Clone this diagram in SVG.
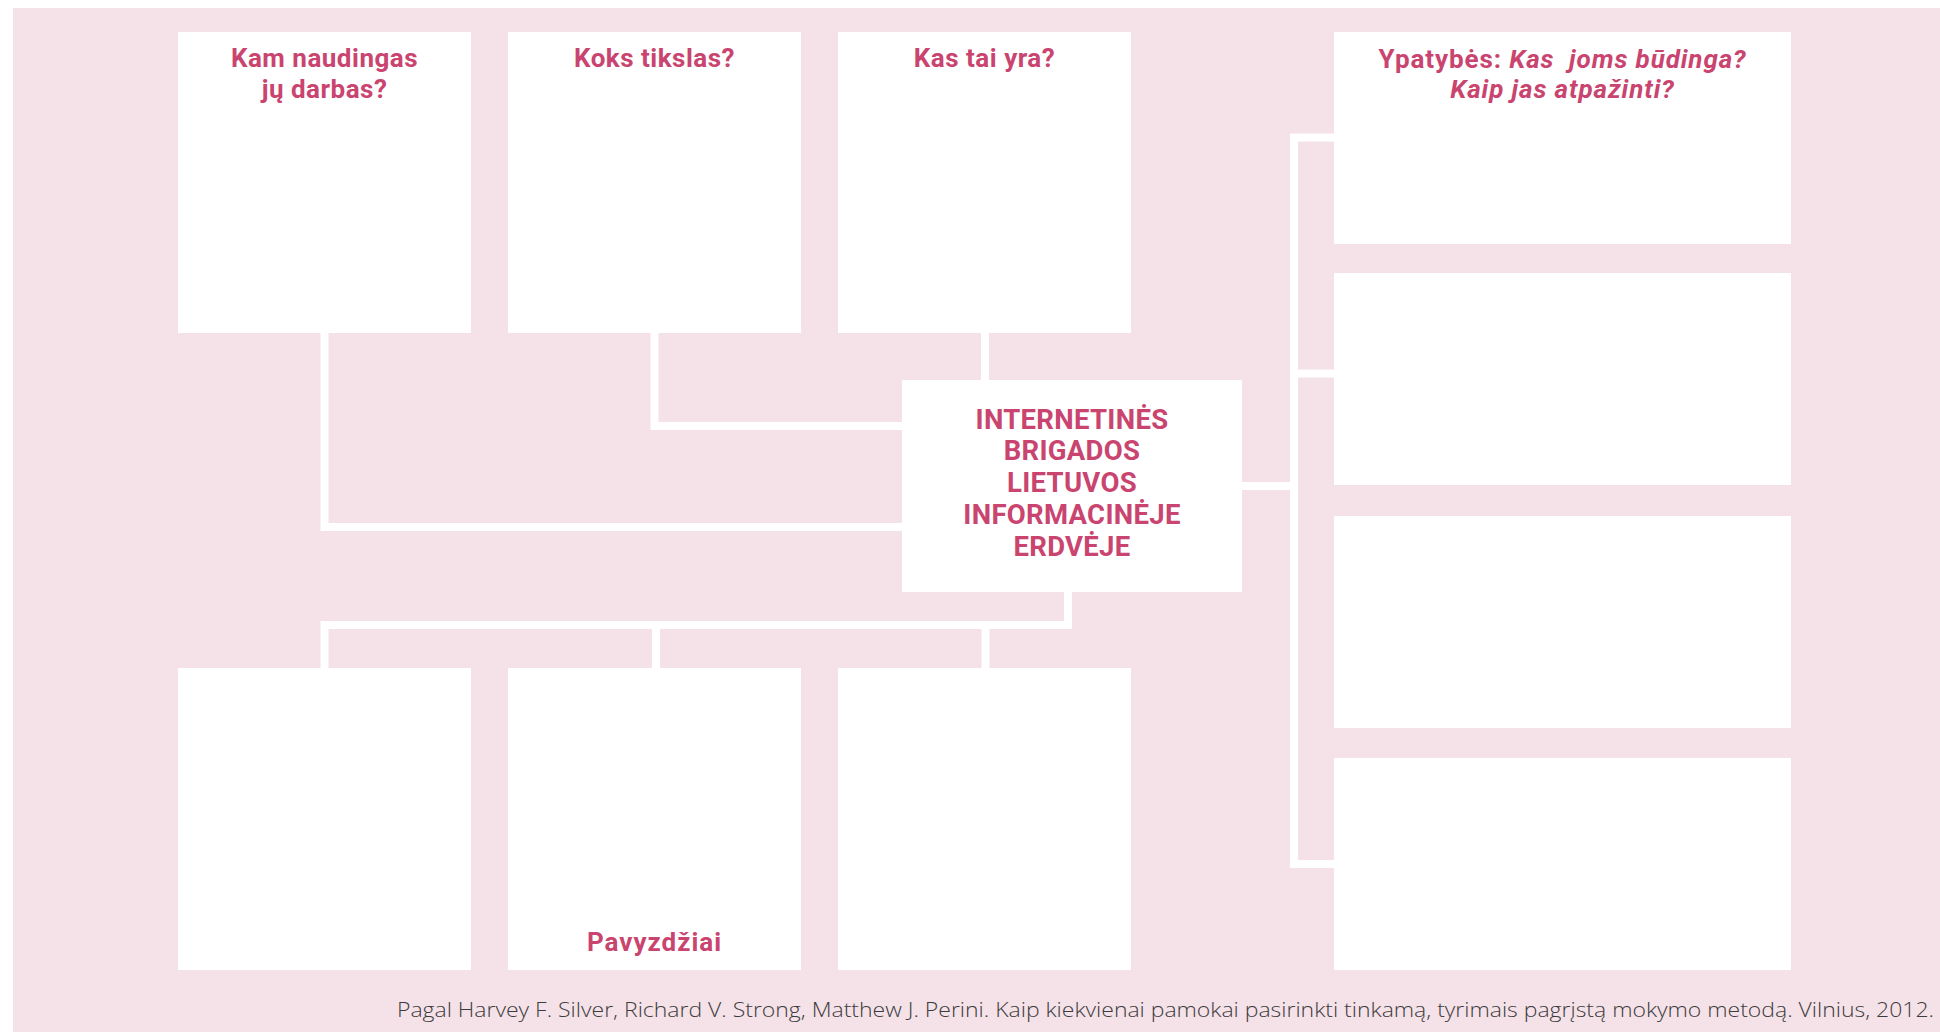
<svg xmlns="http://www.w3.org/2000/svg" width="1940" height="1032" viewBox="0 0 1940 1032">
<style>
.box{fill:#ffffff}
.con{fill:none;stroke:#ffffff;stroke-width:8;stroke-linejoin:miter;stroke-linecap:butt}
.t{font-family:Roboto,"Noto Sans","Liberation Sans",sans-serif;font-weight:700;fill:#C9446F;text-anchor:middle}
.h{font-size:26px;letter-spacing:0.5px}
.r{letter-spacing:0.9px}
.c{font-size:27.5px;letter-spacing:0.3px}
.i{font-style:italic}
.foot{font-family:"Open Sans","Noto Sans","Liberation Sans",sans-serif;font-weight:300;font-size:20px;fill:#3c3c3c}
</style>
<rect x="13" y="8" width="1927" height="1024" fill="#F5E1E8"/>
<g id="connectors">
<path class="con" d="M324.5 333 V527 H902"/>
<path class="con" d="M654.5 333 V426 H902"/>
<path class="con" d="M985 333 V380"/>
<path class="con" d="M1068 592 V625 H324.5 V668"/>
<path class="con" d="M656 625 V668"/>
<path class="con" d="M985.5 625 V668"/>
<path class="con" d="M1242 486 H1294"/>
<path class="con" d="M1334 137.5 H1294 V864 H1334"/>
<path class="con" d="M1294 373.5 H1334"/>
</g>
<g id="node-top1">
<rect class="box" x="178" y="32" width="293" height="301"/>
<text class="t h" x="324.5" y="67">Kam naudingas</text>
<text class="t h" x="324.5" y="98">jų darbas?</text>
</g>
<g id="node-top2">
<rect class="box" x="508" y="32" width="293" height="301"/>
<text class="t h" x="654.5" y="67">Koks tikslas?</text>
</g>
<g id="node-top3">
<rect class="box" x="838" y="32" width="293" height="301"/>
<text class="t h" x="984.5" y="67">Kas tai yra?</text>
</g>
<g id="node-center">
<rect class="box" x="902" y="380" width="340" height="212"/>
<text class="t c" x="1072" y="429">INTERNETINĖS</text>
<text class="t c" x="1072" y="460">BRIGADOS</text>
<text class="t c" x="1072" y="492">LIETUVOS</text>
<text class="t c" x="1072" y="524">INFORMACINĖJE</text>
<text class="t c" x="1072" y="556">ERDVĖJE</text>
</g>
<g id="node-right1">
<rect class="box" x="1334" y="32" width="457" height="212"/>
<text class="t h r" x="1562.5" y="68" xml:space="preserve">Ypatybės: <tspan class="i">Kas  joms būdinga?</tspan></text>
<text class="t h r i" x="1562.5" y="98">Kaip jas atpažinti?</text>
</g>
<g id="node-right2"><rect class="box" x="1334" y="273" width="457" height="212"/></g>
<g id="node-right3"><rect class="box" x="1334" y="516" width="457" height="212"/></g>
<g id="node-right4"><rect class="box" x="1334" y="758" width="457" height="212"/></g>
<g id="node-bottom1"><rect class="box" x="178" y="668" width="293" height="302"/></g>
<g id="node-bottom2">
<rect class="box" x="508" y="668" width="293" height="302"/>
<text class="t h" x="654.5" y="951" style="letter-spacing:1px">Pavyzdžiai</text>
</g>
<g id="node-bottom3"><rect class="box" x="838" y="668" width="293" height="302"/></g>
<text class="foot" x="397" y="1017" textLength="1537" lengthAdjust="spacingAndGlyphs">Pagal Harvey F. Silver, Richard V. Strong, Matthew J. Perini. Kaip kiekvienai pamokai pasirinkti tinkamą, tyrimais pagrįstą mokymo metodą. Vilnius, 2012.</text>
</svg>
